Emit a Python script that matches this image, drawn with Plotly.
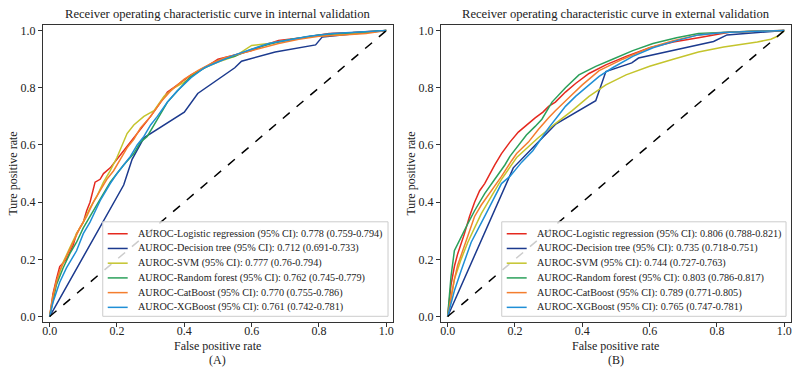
import plotly.graph_objects as go

W, H = 800, 373
FONT = "Liberation Serif"

names = [
    "AUROC-Logistic regression (95% CI): {}",
    "AUROC-Decision tree (95% CI): {}",
    "AUROC-SVM (95% CI): {}",
    "AUROC-Random forest (95% CI): {}",
    "AUROC-CatBoost (95% CI): {}",
    "AUROC-XGBoost (95% CI): {}",
]
auc_internal = ["0.778 (0.759-0.794)", "0.712 (0.691-0.733)", "0.777 (0.76-0.794)",
                "0.762 (0.745-0.779)", "0.770 (0.755-0.786)", "0.761 (0.742-0.781)"]
auc_external = ["0.806 (0.788-0.821)", "0.735 (0.718-0.751)", "0.744 (0.727-0.763)",
                "0.803 (0.786-0.817)", "0.789 (0.771-0.805)", "0.765 (0.747-0.781)"]
colors = ["#E5291F", "#1C3A8E", "#C4C42C", "#2BA05B", "#F47E2E", "#1F8FD6"]

# ---------------- internal validation ----------------
int_lr_fpr = [0, 0.01, 0.02, 0.03, 0.05, 0.07, 0.08, 0.10, 0.11, 0.12, 0.135, 0.15, 0.16, 0.18, 0.20, 0.22, 0.24,
              0.26, 0.28, 0.30, 0.33, 0.35, 0.38, 0.42, 0.46, 0.50, 0.55, 0.60, 0.64, 0.68, 0.75, 0.83, 0.90, 0.95, 1.0]
int_lr_tpr = [0, 0.08, 0.13, 0.175, 0.20, 0.25, 0.29, 0.33, 0.37, 0.40, 0.47, 0.48, 0.50, 0.52, 0.55, 0.58, 0.61,
              0.64, 0.67, 0.70, 0.75, 0.785, 0.81, 0.845, 0.87, 0.90, 0.915, 0.93, 0.95, 0.965, 0.975, 0.99, 0.993, 0.996, 1.0]
int_dt_fpr = [0, 0.22, 0.245, 0.28, 0.40, 0.44, 0.55, 0.57, 0.67, 0.79, 0.81, 1.0]
int_dt_tpr = [0, 0.46, 0.55, 0.625, 0.715, 0.78, 0.87, 0.893, 0.925, 0.95, 0.978, 1.0]
int_svm_fpr = [0, 0.01, 0.02, 0.04, 0.06, 0.08, 0.10, 0.12, 0.14, 0.16, 0.18, 0.20, 0.23, 0.25, 0.28, 0.31, 0.34,
               0.37, 0.40, 0.45, 0.50, 0.55, 0.60, 0.65, 0.70, 0.78, 0.85, 0.92, 1.0]
int_svm_tpr = [0, 0.07, 0.12, 0.19, 0.24, 0.29, 0.33, 0.38, 0.42, 0.47, 0.51, 0.556, 0.64, 0.67, 0.70, 0.72, 0.77,
               0.80, 0.82, 0.865, 0.89, 0.91, 0.948, 0.955, 0.965, 0.98, 0.985, 0.993, 1.0]
int_rf_fpr = [0, 0.01, 0.02, 0.04, 0.06, 0.08, 0.10, 0.12, 0.14, 0.16, 0.18, 0.20, 0.22, 0.25, 0.27, 0.29, 0.31,
              0.33, 0.35, 0.38, 0.42, 0.46, 0.50, 0.55, 0.60, 0.66, 0.72, 0.80, 0.88, 0.95, 1.0]
int_rf_tpr = [0, 0.06, 0.11, 0.17, 0.22, 0.26, 0.31, 0.35, 0.39, 0.43, 0.47, 0.50, 0.53, 0.57, 0.61, 0.63, 0.67,
              0.71, 0.75, 0.79, 0.84, 0.87, 0.895, 0.91, 0.935, 0.955, 0.97, 0.985, 0.99, 0.997, 1.0]
int_cb_fpr = [0, 0.01, 0.02, 0.03, 0.05, 0.07, 0.09, 0.11, 0.13, 0.15, 0.17, 0.19, 0.21, 0.23, 0.25, 0.27, 0.30,
              0.33, 0.36, 0.40, 0.44, 0.48, 0.52, 0.57, 0.62, 0.68, 0.74, 0.80, 0.87, 0.94, 1.0]
int_cb_tpr = [0, 0.07, 0.12, 0.16, 0.21, 0.26, 0.31, 0.35, 0.40, 0.44, 0.48, 0.51, 0.55, 0.59, 0.62, 0.66, 0.70,
              0.75, 0.79, 0.83, 0.86, 0.885, 0.905, 0.92, 0.935, 0.955, 0.97, 0.98, 0.985, 0.99, 1.0]
int_xgb_fpr = [0, 0.01, 0.03, 0.05, 0.08, 0.10, 0.12, 0.15, 0.18, 0.20, 0.22, 0.24, 0.26, 0.28, 0.30, 0.32, 0.35,
               0.38, 0.42, 0.46, 0.50, 0.55, 0.60, 0.65, 0.70, 0.77, 0.84, 0.92, 1.0]
int_xgb_tpr = [0, 0.05, 0.12, 0.17, 0.23, 0.29, 0.33, 0.405, 0.465, 0.50, 0.53, 0.56, 0.60, 0.63, 0.67, 0.70, 0.75,
               0.79, 0.835, 0.87, 0.89, 0.915, 0.935, 0.955, 0.965, 0.98, 0.99, 0.995, 1.0]

# ---------------- external validation ----------------
ext_lr_fpr = [0, 0.005, 0.01, 0.02, 0.03, 0.05, 0.065, 0.08, 0.095, 0.11, 0.125, 0.14, 0.16, 0.185, 0.21, 0.234,
              0.26, 0.283, 0.30, 0.32, 0.35, 0.38, 0.42, 0.47, 0.53, 0.60, 0.67, 0.745, 0.84, 0.92, 1.0]
ext_lr_tpr = [0, 0.06, 0.11, 0.175, 0.22, 0.29, 0.35, 0.40, 0.44, 0.465, 0.50, 0.53, 0.57, 0.61, 0.645, 0.67,
              0.695, 0.715, 0.735, 0.75, 0.785, 0.815, 0.85, 0.88, 0.91, 0.94, 0.96, 0.975, 0.995, 0.998, 1.0]
ext_dt_fpr = [0, 0.195, 0.32, 0.44, 0.47, 0.547, 0.567, 0.695, 0.79, 0.83, 1.0]
ext_dt_tpr = [0, 0.52, 0.672, 0.755, 0.857, 0.887, 0.904, 0.938, 0.962, 0.985, 1.0]
ext_svm_fpr = [0, 0.01, 0.02, 0.04, 0.06, 0.08, 0.10, 0.13, 0.16, 0.205, 0.24, 0.27, 0.32, 0.37, 0.42, 0.47,
               0.53, 0.60, 0.67, 0.745, 0.82, 0.88, 0.92, 0.96, 0.98, 0.99, 1.0]
ext_svm_tpr = [0, 0.07, 0.13, 0.20, 0.26, 0.31, 0.36, 0.42, 0.48, 0.556, 0.595, 0.626, 0.675, 0.72, 0.77, 0.81,
               0.845, 0.875, 0.90, 0.925, 0.943, 0.953, 0.96, 0.97, 0.98, 0.99, 1.0]
ext_rf_fpr = [0, 0.005, 0.01, 0.02, 0.04, 0.06, 0.08, 0.11, 0.14, 0.17, 0.185, 0.21, 0.234, 0.26, 0.28, 0.31,
              0.35, 0.39, 0.44, 0.49, 0.55, 0.61, 0.68, 0.745, 0.82, 0.90, 1.0]
ext_rf_tpr = [0, 0.08, 0.14, 0.23, 0.28, 0.325, 0.37, 0.43, 0.48, 0.53, 0.56, 0.60, 0.635, 0.665, 0.69, 0.75,
              0.80, 0.845, 0.875, 0.90, 0.93, 0.955, 0.975, 0.99, 0.995, 0.998, 1.0]
ext_cb_fpr = [0, 0.01, 0.02, 0.03, 0.05, 0.08, 0.10, 0.13, 0.16, 0.19, 0.205, 0.24, 0.27, 0.30, 0.32, 0.36,
              0.40, 0.45, 0.52, 0.60, 0.67, 0.745, 0.82, 0.90, 1.0]
ext_cb_tpr = [0, 0.07, 0.13, 0.18, 0.25, 0.35, 0.39, 0.44, 0.49, 0.545, 0.57, 0.61, 0.655, 0.695, 0.72, 0.765,
              0.81, 0.86, 0.90, 0.94, 0.965, 0.985, 0.993, 0.997, 1.0]
ext_xgb_fpr = [0, 0.01, 0.02, 0.04, 0.07, 0.11, 0.14, 0.16, 0.185, 0.22, 0.253, 0.28, 0.30, 0.33, 0.35, 0.38,
               0.41, 0.45, 0.49, 0.55, 0.61, 0.68, 0.745, 0.82, 0.90, 1.0]
ext_xgb_tpr = [0, 0.05, 0.09, 0.16, 0.26, 0.35, 0.42, 0.465, 0.49, 0.54, 0.58, 0.625, 0.66, 0.705, 0.735, 0.77,
               0.80, 0.84, 0.87, 0.91, 0.94, 0.965, 0.985, 0.993, 0.997, 1.0]

diag = [0, 1]

internal = [(int_lr_fpr, int_lr_tpr), (int_dt_fpr, int_dt_tpr), (int_svm_fpr, int_svm_tpr),
            (int_rf_fpr, int_rf_tpr), (int_cb_fpr, int_cb_tpr), (int_xgb_fpr, int_xgb_tpr)]
external = [(ext_lr_fpr, ext_lr_tpr), (ext_dt_fpr, ext_dt_tpr), (ext_svm_fpr, ext_svm_tpr),
            (ext_rf_fpr, ext_rf_tpr), (ext_cb_fpr, ext_cb_tpr), (ext_xgb_fpr, ext_xgb_tpr)]

# pixel geometry helpers
def px(x):
    return x / W

def py(y):
    return 1 - y / H

AX_TOP, AX_BOT = 24, 323
A_L, A_R = 42, 393
B_L, B_R = 441, 792

fig = go.Figure()

for i, (f, t) in enumerate(internal):
    fig.add_trace(go.Scatter(x=f, y=t, mode="lines", name=names[i].format(auc_internal[i]),
                             line=dict(color=colors[i], width=1.5), xaxis="x", yaxis="y",
                             showlegend=False))
fig.add_trace(go.Scatter(x=diag, y=diag, mode="lines", showlegend=False,
                         line=dict(color="black", width=1.5, dash="dash"), xaxis="x", yaxis="y"))

for i, (f, t) in enumerate(external):
    fig.add_trace(go.Scatter(x=f, y=t, mode="lines", name=names[i].format(auc_external[i]),
                             line=dict(color=colors[i], width=1.5), xaxis="x2", yaxis="y2",
                             showlegend=False))
fig.add_trace(go.Scatter(x=diag, y=diag, mode="lines", showlegend=False,
                         line=dict(color="black", width=1.5, dash="dash"), xaxis="x2", yaxis="y2"))

tickfont = dict(family=FONT, size=12, color="#222")
ticks = [0, 0.2, 0.4, 0.6, 0.8, 1.0]
ticktext = ["0.0", "0.2", "0.4", "0.6", "0.8", "1.0"]

def axis(dom, anchor, standoff=0):
    return dict(domain=dom, range=[-0.02, 1.02], tickvals=ticks, ticktext=ticktext, ticks="outside",
                ticklen=4, tickcolor="#333", tickfont=tickfont, showline=True, mirror=True,
                linecolor="#333", linewidth=1, showgrid=False, zeroline=False, anchor=anchor,
                ticklabelstandoff=standoff)

ydom = [py(AX_BOT), py(AX_TOP)]

fig.update_layout(
    width=W, height=H, margin=dict(l=0, r=0, t=0, b=0),
    paper_bgcolor="white", plot_bgcolor="white", showlegend=False,
    font=dict(family=FONT, color="#222"),
    xaxis=axis([px(A_L), px(A_R)], "y", -7),
    yaxis=axis(ydom, "x"),
    xaxis2=axis([px(B_L), px(B_R)], "y2", -7),
    yaxis2=axis(ydom, "x2"),
)

ann = []
shapes = []

def text(x, y, s, size=12, angle=0, xanchor="center"):
    ann.append(dict(x=px(x), y=py(y), xref="paper", yref="paper", text=s, showarrow=False,
                    font=dict(family=FONT, size=size, color="#222"), textangle=angle,
                    xanchor=xanchor, yanchor="middle"))

text((A_L + A_R) / 2, 13, "Receiver operating characteristic curve in internal validation", size=12.6)
text((B_L + B_R) / 2, 13, "Receiver operating characteristic curve in external validation", size=12.6)
text((A_L + A_R) / 2, 347, "False positive rate", size=12)
text((B_L + B_R) / 2, 347, "False positive rate", size=12)
text((A_L + A_R) / 2, 361, "(A)", size=12)
text((B_L + B_R) / 2, 361, "(B)", size=12)
text(12, (AX_TOP + AX_BOT) / 2, "Ture positive rate", size=12, angle=-90)
text(411, (AX_TOP + AX_BOT) / 2, "Ture positive rate", size=12, angle=-90)

# custom legends (matplotlib-like compact layout)
def legend(x0, x1, y0, y1, labels):
    shapes.append(dict(type="rect", xref="paper", yref="paper", x0=px(x0), x1=px(x1), y0=py(y1), y1=py(y0),
                       fillcolor="rgba(255,255,255,0.8)", line=dict(color="#cccccc", width=1), layer="above"))
    for i, lab in enumerate(labels):
        yc = y0 + 12 + i * 14.8
        shapes.append(dict(type="line", xref="paper", yref="paper", x0=px(x0 + 5), x1=px(x0 + 25),
                           y0=py(yc), y1=py(yc), line=dict(color=colors[i], width=1.5), layer="above"))
        text(x0 + 33, yc, lab, size=10.2, xanchor="left")

legend(A_L + 60, A_R - 5, 222, 317, [n.format(a) for n, a in zip(names, auc_internal)])
legend(B_L + 61, B_R - 5, 222, 317, [n.format(a) for n, a in zip(names, auc_external)])

fig.update_layout(annotations=ann, shapes=shapes)

fig.write_html("out.html", config={"displayModeBar": False},
               post_script="document.body.style.margin='0';document.body.style.overflow='hidden';")
